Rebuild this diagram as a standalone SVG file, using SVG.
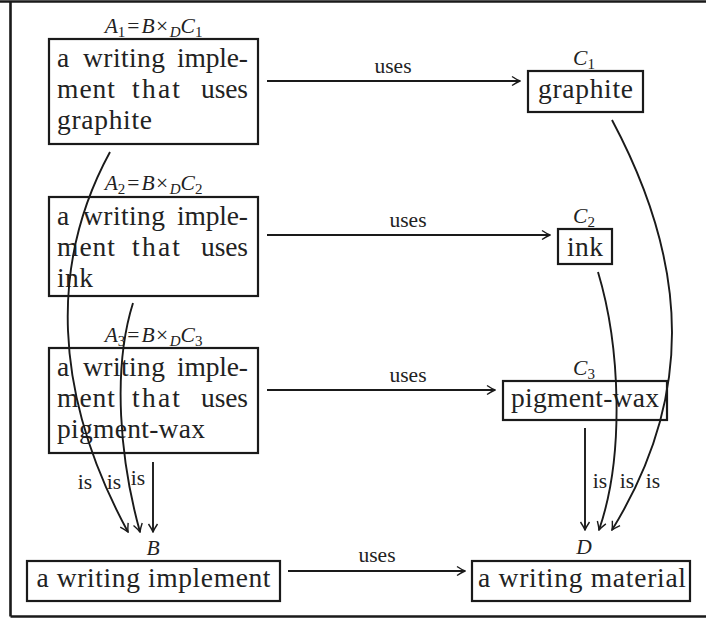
<svg xmlns="http://www.w3.org/2000/svg" width="706" height="620" viewBox="0 0 706 620">
<style>
.t{font-family:"Liberation Serif","Times New Roman",serif;font-size:27.5px;fill:#222}
.l{font-family:"Liberation Serif","Times New Roman",serif;font-size:21.5px;fill:#222}
.it{font-style:italic}
.sub{font-size:15px}
.box{fill:#fff;stroke:#1a1a1a;stroke-width:2.2}
.c{fill:none;stroke:#1a1a1a;stroke-width:1.9}
.frame{fill:none;stroke:#1a1a1a;stroke-width:2.6}
</style>
<defs>
<marker id="ah" viewBox="-9 -6 10 12" refX="0" refY="0" markerWidth="10" markerHeight="12" markerUnits="userSpaceOnUse" orient="auto">
<path d="M-8,-4.5 Q-3,-1.2 0,0 Q-3,1.2 -8,4.5" fill="none" stroke="#1a1a1a" stroke-width="1.4"/>
</marker>
</defs>
<rect width="706" height="620" fill="#fff"/>
<path class="frame" d="M0,1.5 H706 M10.5,1.5 V616.5 M10.5,616.5 H706"/>

<g id="A1">
<rect class="box" x="49" y="39" width="209" height="105"/>
<text class="l" x="153.5" y="33" text-anchor="middle"><tspan class="it">A</tspan><tspan class="sub" dy="4">1</tspan><tspan dy="-4" dx="2">=</tspan><tspan class="it" dx="2">B</tspan><tspan dx="1.5">×</tspan><tspan class="sub it" dy="4" dx="1.5">D</tspan><tspan class="it" dy="-4">C</tspan><tspan class="sub" dy="4">1</tspan></text>
<text class="t" x="57" y="67">a</text>
<text class="t" x="83" y="67" textLength="82" lengthAdjust="spacing">writing</text>
<text class="t" x="177" y="67" textLength="71" lengthAdjust="spacing">imple-</text>
<text class="t" x="57" y="98" textLength="58" lengthAdjust="spacing">ment</text>
<text class="t" x="132" y="98" textLength="48" lengthAdjust="spacing">that</text>
<text class="t" x="201" y="98" textLength="47" lengthAdjust="spacing">uses</text>
<text class="t" x="57" y="129" textLength="95" lengthAdjust="spacing">graphite</text>
</g>

<g id="A2">
<rect class="box" x="49" y="197" width="209" height="99"/>
<text class="l" x="153.5" y="190" text-anchor="middle"><tspan class="it">A</tspan><tspan class="sub" dy="4">2</tspan><tspan dy="-4" dx="2">=</tspan><tspan class="it" dx="2">B</tspan><tspan dx="1.5">×</tspan><tspan class="sub it" dy="4" dx="1.5">D</tspan><tspan class="it" dy="-4">C</tspan><tspan class="sub" dy="4">2</tspan></text>
<text class="t" x="57" y="225">a</text>
<text class="t" x="83" y="225" textLength="82" lengthAdjust="spacing">writing</text>
<text class="t" x="177" y="225" textLength="71" lengthAdjust="spacing">imple-</text>
<text class="t" x="57" y="256" textLength="58" lengthAdjust="spacing">ment</text>
<text class="t" x="132" y="256" textLength="48" lengthAdjust="spacing">that</text>
<text class="t" x="201" y="256" textLength="47" lengthAdjust="spacing">uses</text>
<text class="t" x="57" y="287" textLength="36" lengthAdjust="spacing">ink</text>
</g>

<g id="A3">
<rect class="box" x="49" y="348" width="209" height="105"/>
<text class="l" x="153.5" y="342" text-anchor="middle"><tspan class="it">A</tspan><tspan class="sub" dy="4">3</tspan><tspan dy="-4" dx="2">=</tspan><tspan class="it" dx="2">B</tspan><tspan dx="1.5">×</tspan><tspan class="sub it" dy="4" dx="1.5">D</tspan><tspan class="it" dy="-4">C</tspan><tspan class="sub" dy="4">3</tspan></text>
<text class="t" x="57" y="376">a</text>
<text class="t" x="83" y="376" textLength="82" lengthAdjust="spacing">writing</text>
<text class="t" x="177" y="376" textLength="71" lengthAdjust="spacing">imple-</text>
<text class="t" x="57" y="407" textLength="58" lengthAdjust="spacing">ment</text>
<text class="t" x="132" y="407" textLength="48" lengthAdjust="spacing">that</text>
<text class="t" x="201" y="407" textLength="47" lengthAdjust="spacing">uses</text>
<text class="t" x="57" y="438" textLength="148" lengthAdjust="spacing">pigment-wax</text>
</g>

<g id="C1">
<rect class="box" x="528" y="71" width="115" height="41"/>
<text class="l" x="584" y="65" text-anchor="middle"><tspan class="it">C</tspan><tspan class="sub" dy="4">1</tspan></text>
<text class="t" x="585.5" y="98" text-anchor="middle" textLength="95" lengthAdjust="spacing">graphite</text>
</g>

<g id="C2">
<rect class="box" x="558" y="229" width="54" height="35"/>
<text class="l" x="584" y="223" text-anchor="middle"><tspan class="it">C</tspan><tspan class="sub" dy="4">2</tspan></text>
<text class="t" x="585" y="256" text-anchor="middle" textLength="36" lengthAdjust="spacing">ink</text>
</g>

<g id="C3">
<rect class="box" x="503" y="381" width="164" height="39"/>
<text class="l" x="584" y="375" text-anchor="middle"><tspan class="it">C</tspan><tspan class="sub" dy="4">3</tspan></text>
<text class="t" x="585" y="407" text-anchor="middle" textLength="148" lengthAdjust="spacing">pigment-wax</text>
</g>

<g id="B">
<rect class="box" x="27" y="561" width="253" height="40"/>
<text class="l it" x="153" y="555" text-anchor="middle">B</text>
<text class="t" x="153.5" y="587" text-anchor="middle" textLength="234" lengthAdjust="spacing">a writing implement</text>
</g>

<g id="D">
<rect class="box" x="472" y="561" width="218" height="40"/>
<text class="l it" x="584" y="554" text-anchor="middle">D</text>
<text class="t" x="582" y="587" text-anchor="middle" textLength="208" lengthAdjust="spacing">a writing material</text>
</g>

<g id="connectors">
<path class="c" marker-end="url(#ah)" d="M267,81 H520"/>
<path class="c" marker-end="url(#ah)" d="M267,235 H550"/>
<path class="c" marker-end="url(#ah)" d="M267,390 H495"/>
<path class="c" marker-end="url(#ah)" d="M288,571 H465"/>
<path class="c" marker-end="url(#ah)" d="M110,152 C50,262 52,392 128,532"/>
<path class="c" marker-end="url(#ah)" d="M133,303 C112,370 120,460 140,532"/>
<path class="c" marker-end="url(#ah)" d="M153,462 V532"/>
<path class="c" marker-end="url(#ah)" d="M612,120 C692,270 692,400 612,530"/>
<path class="c" marker-end="url(#ah)" d="M598,272 C620,345 625,455 599,530"/>
<path class="c" marker-end="url(#ah)" d="M585,428 V530"/>
<text class="l" x="393" y="73" text-anchor="middle">uses</text>
<text class="l" x="408" y="227" text-anchor="middle">uses</text>
<text class="l" x="408" y="382" text-anchor="middle">uses</text>
<text class="l" x="377" y="562" text-anchor="middle">uses</text>
<text class="l" x="85" y="489" text-anchor="middle">is</text>
<text class="l" x="114" y="489" text-anchor="middle">is</text>
<text class="l" x="138" y="485" text-anchor="middle">is</text>
<text class="l" x="600" y="488" text-anchor="middle">is</text>
<text class="l" x="627" y="488" text-anchor="middle">is</text>
<text class="l" x="653" y="488" text-anchor="middle">is</text>
</g>
</svg>
